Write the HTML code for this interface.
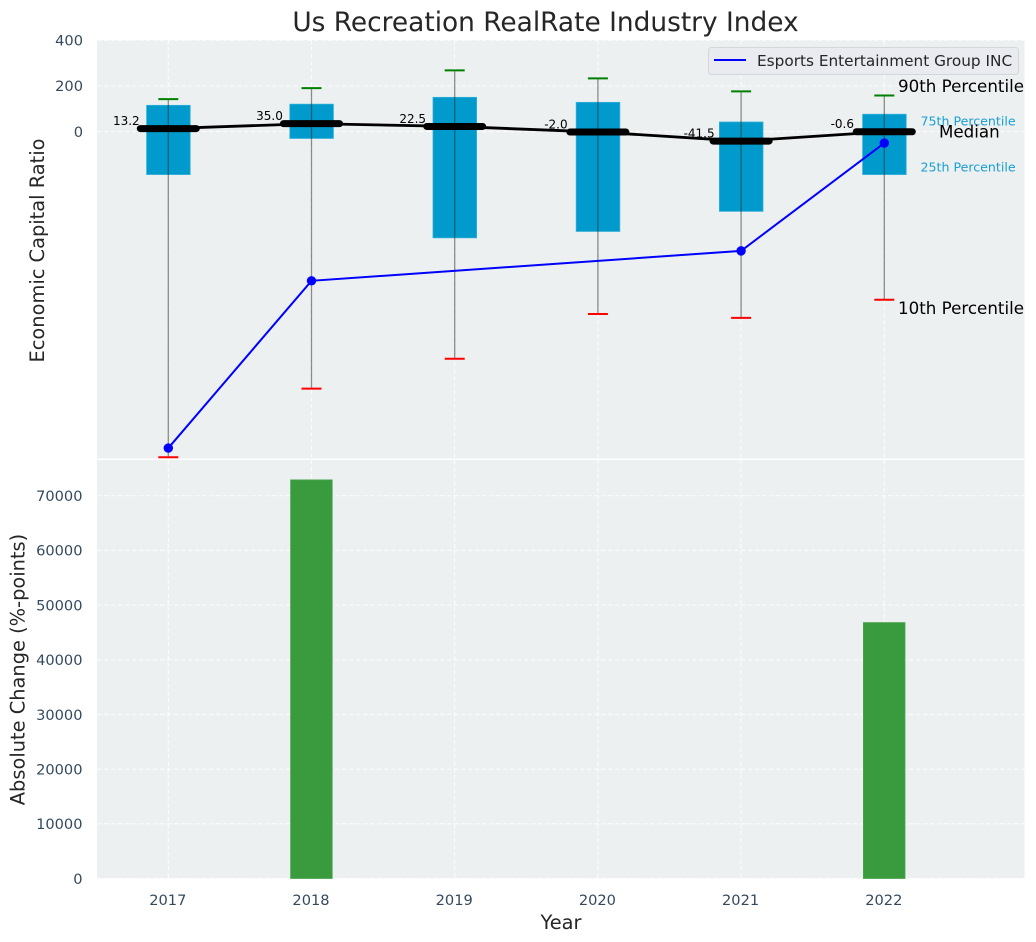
<!DOCTYPE html>
<html lang="en">
<head>
<meta charset="utf-8">
<title>Us Recreation RealRate Industry Index</title>
<style>
html,body{margin:0;padding:0;background:#fff;width:1036px;height:942px;overflow:hidden}
svg{display:block;font-family:"DejaVu Sans","Liberation Sans",sans-serif}
</style>
</head>
<body>
<svg id="chart" xmlns="http://www.w3.org/2000/svg" width="1036" height="942" viewBox="0 0 1036 942"></svg>
<script>
const years = [2017, 2018, 2019, 2020, 2021, 2022];
const p90 = [142, 190, 268, 233, 176, 158];
const p75 = [115, 120, 150, 128, 42, 76];
const medians = [13.2, 35.0, 22.5, -2.0, -41.5, -0.6];
const p25 = [-188, -30, -465, -437, -349, -188];
const p10 = [-1425, -1125, -994, -798, -815, -736];
const companyValues = [-1385, -653, null, null, -522, -50];
const changeValues = [0, 72900, 0, 0, 0, 46800];
const topTicks = [0, 200, 400];
const bottomTicks = [0, 10000, 20000, 30000, 40000, 50000, 60000, 70000];

const svg = document.getElementById('chart');
const NS = 'http://www.w3.org/2000/svg';
const L = 97, R = 1024.5, T1 = 40, B1 = 458.5, T2 = 460, B2 = 878.5;
const x = v => 168.3 + (v - 2017) * 143.2;
const y1 = v => 131.6 - v * 0.2285;
const y2 = v => B2 - v * 0.005468;

function add(tag, attrs, text) {
  const el = document.createElementNS(NS, tag);
  for (const k in attrs) el.setAttribute(k, attrs[k]);
  if (text !== undefined) el.textContent = text;
  svg.appendChild(el);
  return el;
}
function mark(el, name, interactable) {
  
  
  return el;
}
const gridStyle = {stroke:'#ffffff','stroke-width':1.1,'stroke-dasharray':'4.5 2.5',opacity:0.85};
const tickColor = '#34495e', labelColor = '#262626';

mark(add('rect',{x:L,y:T1,width:R-L,height:B1-T1,fill:'#ecf0f1'}),'top-plot-background',false);
mark(add('rect',{x:L,y:T2,width:R-L,height:B2-T2,fill:'#ecf0f1'}),'bottom-plot-background',false);

mark(add('text',{x:545.5,y:31,'text-anchor':'middle','font-size':26.4,fill:labelColor},'Us Recreation RealRate Industry Index'),'chart-title',false);

// grid + y ticks top
topTicks.forEach(t => {
  mark(add('line',Object.assign({x1:L,x2:R,y1:y1(t),y2:y1(t)},gridStyle)),'top-grid-line-y',false);
  mark(add('text',{x:83,y:y1(t)+5.3,'text-anchor':'end','font-size':14.6,fill:tickColor},String(t)),'top-y-tick-label',false);
});
bottomTicks.forEach(t => {
  mark(add('line',Object.assign({x1:L,x2:R,y1:y2(t),y2:y2(t)},gridStyle)),'bottom-grid-line-y',false);
  mark(add('text',{x:82.5,y:y2(t)+5.3,'text-anchor':'end','font-size':14.6,fill:tickColor},String(t)),'bottom-y-tick-label',false);
});
years.forEach(yr => {
  mark(add('line',Object.assign({x1:x(yr),x2:x(yr),y1:T1,y2:B1},gridStyle)),'top-grid-line-x',false);
  mark(add('line',Object.assign({x1:x(yr),x2:x(yr),y1:T2,y2:B2},gridStyle)),'bottom-grid-line-x',false);
  mark(add('text',{x:x(yr)-0.5,y:905,'text-anchor':'middle','font-size':14.6,fill:tickColor},String(yr)),'x-tick-label',false);
});

// boxes
years.forEach((yr,i) => {
  const cx = x(yr);
  mark(add('rect',{x:cx-21.7,y:y1(p75[i]),width:43.6,height:y1(p25[i])-y1(p75[i]),fill:'#009bcc',stroke:'#33afd8','stroke-width':0.8}),'box-'+yr,false);
});
// whiskers
years.forEach((yr,i) => {
  const cx = x(yr);
  mark(add('line',{x1:cx,x2:cx,y1:y1(p90[i]),y2:y1(p10[i]),stroke:'#222','stroke-width':1.3,opacity:0.5}),'whisker-'+yr,false);
  mark(add('line',{x1:cx-10,x2:cx+10,y1:y1(p90[i]),y2:y1(p90[i]),stroke:'#008000','stroke-width':2}),'p90-cap-'+yr,false);
  mark(add('line',{x1:cx-10,x2:cx+10,y1:y1(p10[i]),y2:y1(p10[i]),stroke:'#ff0000','stroke-width':2}),'p10-cap-'+yr,false);
});
// median line
const medianPts = years.map((yr,i) => x(yr)+','+y1(medians[i])).join(' ');
mark(add('polyline',{points:medianPts,fill:'none',stroke:'#000','stroke-width':2.8}),'median-line',false);
years.forEach((yr,i) => {
  const cx = x(yr), my = y1(medians[i]);
  mark(add('line',{x1:cx-28,x2:cx+28,y1:my,y2:my,stroke:'#000','stroke-width':7,'stroke-linecap':'round'}),'median-bar-'+yr,false);
  mark(add('text',{x:cx-42,y:my-3.5,'text-anchor':'middle','font-size':12,fill:'#000'},medians[i].toFixed(1)),'median-value-'+yr,false);
});
// company line
const companyPts = years.map((yr,i) => companyValues[i]===null ? null : x(yr)+','+y1(companyValues[i])).filter(Boolean).join(' ');
mark(add('polyline',{points:companyPts,fill:'none',stroke:'#0000ff','stroke-width':2}),'company-line',false);
years.forEach((yr,i) => {
  if (companyValues[i]===null) return;
  mark(add('circle',{cx:x(yr),cy:y1(companyValues[i]),r:4.7,fill:'#0000ff'}),'company-point-'+yr,false);
});

// annotations
mark(add('text',{x:898,y:92,'font-size':16.7,fill:'#000'},'90th Percentile'),'annotation-90th-percentile',false);
mark(add('text',{x:920.5,y:125.5,'font-size':12.6,fill:'#1a9fd0'},'75th Percentile'),'annotation-75th-percentile',false);
mark(add('text',{x:939,y:137.5,'font-size':16.7,fill:'#000'},'Median'),'annotation-median',false);
mark(add('text',{x:920.5,y:171.5,'font-size':12.6,fill:'#1a9fd0'},'25th Percentile'),'annotation-25th-percentile',false);
mark(add('text',{x:898,y:314,'font-size':16.7,fill:'#000'},'10th Percentile'),'annotation-10th-percentile',false);

// legend
mark(add('rect',{x:708.5,y:47.5,width:310,height:27,rx:3,fill:'#e9ebf1',stroke:'#d3d6db','stroke-width':1}),'legend-box',false);
mark(add('line',{x1:714,x2:746,y1:60,y2:60,stroke:'#0000ff','stroke-width':2}),'legend-line',false);
mark(add('text',{x:757,y:66,'font-size':15.3,fill:labelColor},'Esports Entertainment Group INC'),'legend-label',false);

// bars
years.forEach((yr,i) => {
  if (!changeValues[i]) return;
  const cx = x(yr);
  mark(add('rect',{x:cx-20.9,y:y2(changeValues[i]),width:41.6,height:B2-y2(changeValues[i]),fill:'#3a9b3e',stroke:'#4aa34d','stroke-width':0.8}),'change-bar-'+yr,false);
});

// axis titles
mark(add('text',{transform:'translate(44,250.5) rotate(-90)','text-anchor':'middle','font-size':19.4,fill:labelColor},'Economic Capital Ratio'),'top-y-axis-title',false);
mark(add('text',{transform:'translate(24.5,669.5) rotate(-90)','text-anchor':'middle','font-size':19.4,fill:labelColor},'Absolute Change (%-points)'),'bottom-y-axis-title',false);
mark(add('text',{x:561,y:929,'text-anchor':'middle','font-size':19.4,fill:labelColor},'Year'),'x-axis-title',false);
</script>
</body>
</html>
